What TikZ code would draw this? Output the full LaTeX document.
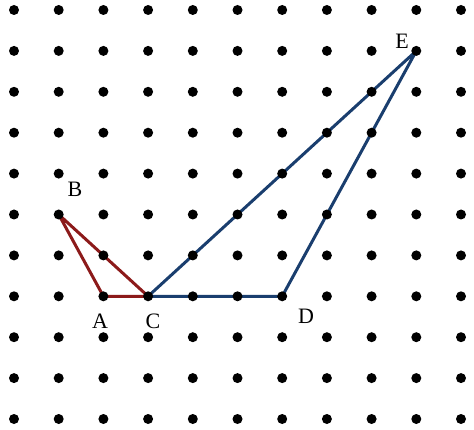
\documentclass[tikz,border=0pt]{standalone}
\usepackage{fontspec}
\setmainfont{Liberation Serif}
\definecolor{tred}{RGB}{140,26,26}
\definecolor{tblue}{RGB}{26,62,110}
\begin{document}
\begin{tikzpicture}[x=1pt,y=-1pt,
  gdot/.style={circle,fill=black,inner sep=0pt,minimum size=10pt},
  redline/.style={draw=tred,line width=3pt,line join=round,line cap=round},
  blueline/.style={draw=tblue,line width=3pt,line join=round,line cap=round},
  lbl/.style={font=\fontsize{22}{22}\selectfont,inner sep=0pt}]
\useasboundingbox (0,0) rectangle (474,430);
\pgfmathsetmacro{\dx}{44.7}
\pgfmathsetmacro{\dy}{40.9}
\coordinate (A) at (14+2*\dx,10+7*\dy);
\coordinate (B) at (14+1*\dx,10+5*\dy);
\coordinate (C) at (14+3*\dx,10+7*\dy);
\coordinate (D) at (14+6*\dx,10+7*\dy);
\coordinate (E) at (14+9*\dx,10+1*\dy);
\draw[redline] (B) -- (A) -- (C) -- cycle;
\draw[blueline] (C) -- (D) -- (E) -- cycle;
\foreach \i in {0,...,10}{
  \foreach \j in {0,...,10}{
    \node[gdot] (p\i-\j) at (14+\i*\dx,10+\j*\dy) {};
  }
}
\node[lbl] (lB) at (75,189) {B};
\node[lbl] (lA) at (100,321) {A};
\node[lbl] (lC) at (153,321) {C};
\node[lbl] (lD) at (306,316) {D};
\node[lbl] (lE) at (402,41) {E};
\end{tikzpicture}
\end{document}
